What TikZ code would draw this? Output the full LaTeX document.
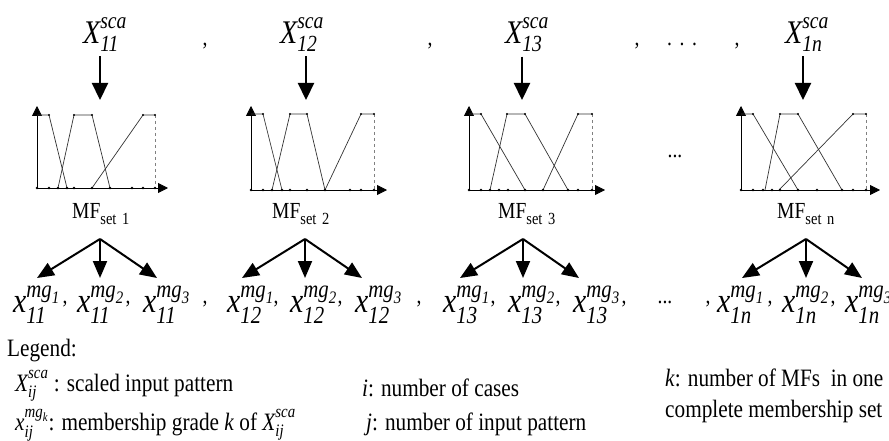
\documentclass[tikz,border=0pt]{standalone}
\usepackage{amsmath}
\usepackage{fontspec}
\setmainfont[FakeStretch=0.85]{Liberation Serif}
\usetikzlibrary{arrows.meta,positioning}
\newcommand{\ital}[1]{\text{\itshape #1}}
\newcommand{\vsca}[1]{$\ital{X}_{\ital{#1}}^{\raisebox{0.12em}{$\scriptstyle\ital{sca}$}}$}
\newcommand{\vmg}[2]{$\ital{x}_{\ital{#1}}^{\raisebox{0.12em}{$\scriptstyle\ital{mg}_{\ital{#2}}$}}$}
\newcommand{\mfset}[1]{MF\raisebox{-0.28em}{\fontsize{17}{18}\selectfont set\,\,#1}}

\begin{document}
\begin{tikzpicture}[x=1pt,y=-1pt,
    inlab/.style={font=\fontsize{33}{36}\selectfont,inner sep=0pt,anchor=base west},
    outlab/.style={font=\fontsize{35}{38}\selectfont,inner sep=0pt,anchor=base west},
    mflab/.style={font=\fontsize{23}{26}\selectfont,inner sep=0pt,anchor=base west},
    sep/.style={font=\fontsize{23}{25}\selectfont,inner sep=0pt},
    legtext/.style={font=\fontsize{25}{28}\selectfont,inner sep=0pt,anchor=base west},
    feed/.style={line width=2.2pt,-{Triangle[length=17pt,width=16pt]}},
    fan/.style={line width=2pt,-{Triangle[length=17pt,width=14pt]}},
    mfaxis/.style={line width=0.8pt,-{Triangle[length=10pt,width=10pt]}},
    mfline/.style={line width=0.7pt,black!80},
    mfdash/.style={line width=0.7pt,black!50,dashed}]
  \useasboundingbox (0,0) rectangle (889,441);

  % scaled inputs
  \node[inlab] (in1) at (83,44) {\vsca{11}};
  \node[inlab] (in2) at (280,44) {\vsca{12}};
  \node[inlab] (in3) at (505,44) {\vsca{13}};
  \node[inlab] (in4) at (785,44) {\vsca{1n}};
  \foreach \x [count=\i] in {205,430,637,737}
    \node[sep] (tc\i) at (\x,46) {,};
  \node[sep] (tdots) at (682,44) {.\,\,.\,\,.};

  \foreach \x [count=\i] in {100,306,522,803} {
    \coordinate (t\i) at (\x,100);
    \draw[feed] (in\i.south -| t\i) ++(0,5) -- (t\i);
  }

  % membership function sets
  \draw[mfaxis] (37,188) -- (37,106);
  \draw[mfaxis] (37,188) -- (168,188);
  \draw[mfline] (37,115) -- (49,115) -- (67,188);
  \draw[mfline] (58,188) -- (74,115) -- (92,115) -- (110,188);
  \draw[mfline] (92,188) -- (143,115) -- (155,115);
  \draw[mfdash] (155,115) -- (155,188);
  \foreach \x in {37,49,58,67,74,92,110,132,143,155}
    \fill (\x,188) circle (1.3pt);
  \foreach \x in {49,74,92,143,155}
    \fill (\x,115) circle (1.1pt);

  \draw[mfaxis] (251,190) -- (251,106);
  \draw[mfaxis] (251,190) -- (387,190);
  \draw[mfline] (251,114) -- (263,114) -- (282,190);
  \draw[mfline] (272,190) -- (290,114) -- (307,114) -- (325,190);
  \draw[mfline] (325,190) -- (361,114) -- (374,114);
  \draw[mfdash] (374,114) -- (374,190);
  \foreach \x in {251,263,272,282,290,307,325,350,361,374}
    \fill (\x,190) circle (1.3pt);
  \foreach \x in {263,290,307,361,374}
    \fill (\x,114) circle (1.1pt);

  \draw[mfaxis] (469,190) -- (469,106);
  \draw[mfaxis] (469,190) -- (605,190);
  \draw[mfline] (469,114) -- (481,114) -- (525,190);
  \draw[mfline] (490,190) -- (507,114) -- (525,114) -- (568,190);
  \draw[mfline] (543,190) -- (578,114) -- (592,114);
  \draw[mfdash] (592,114) -- (592,190);
  \foreach \x in {469,481,490,499,508,525,543,568,578,592}
    \fill (\x,190) circle (1.3pt);
  \foreach \x in {481,507,525,578,592}
    \fill (\x,114) circle (1.1pt);

  \node[sep] (mdots) at (675,156) {...};

  \draw[mfaxis] (741,190) -- (741,106);
  \draw[mfaxis] (741,190) -- (880,190);
  \draw[mfline] (741,114) -- (753,114) -- (798,190);
  \draw[mfline] (765,190) -- (780,114) -- (798,114) -- (842,190);
  \draw[mfline] (779,190) -- (853,114) -- (866,114);
  \draw[mfdash] (866,114) -- (866,190);
  \foreach \x in {741,753,763,772,780,798,817,842,853,866}
    \fill (\x,190) circle (1.3pt);
  \foreach \x in {753,780,798,853,866}
    \fill (\x,114) circle (1.1pt);

  \node[mflab] (mf1) at (72,218) {\mfset{1}};
  \node[mflab] (mf2) at (272,218) {\mfset{2}};
  \node[mflab] (mf3) at (498,218) {\mfset{3}};
  \node[mflab] (mf4) at (777,218) {\mfset{n}};

  % membership grades
  \foreach \xm/\xl/\xr [count=\i] in {100/37/157,305/242/362,523/460/579,806/742/862} {
    \coordinate (ap\i) at (\xm,239);
    \coordinate (fl\i) at (\xl,278);
    \coordinate (fm\i) at (\xm,278);
    \coordinate (fr\i) at (\xr,278);
    \draw[fan] (ap\i) -- (fl\i);
    \draw[fan] (ap\i) -- (fm\i);
    \draw[fan] (ap\i) -- (fr\i);
  }

  \foreach \g/\xa/\xb/\xc [count=\i] in {11/13/77/143,12/227/290/355,13/443/508/573,1n/717/782/845} {
    \node[outlab] (o\i-1) at (\xa,312) {\vmg{\g}{1}};
    \node[outlab] (o\i-2) at (\xb,312) {\vmg{\g}{2}};
    \node[outlab] (o\i-3) at (\xc,312) {\vmg{\g}{3}};
  }
  \foreach \x [count=\i] in {65,128,276,340,493,558,770,833}
    \node[sep] (oc\i) at (\x,304) {,};
  \foreach \x [count=\i] in {205,419,624,708}
    \node[sep] (og\i) at (\x,304) {,};
  \node[sep] (odots) at (665,302) {...};

  % legend
  \node[legtext] (leg) at (7,356) {Legend:};
  \node[legtext] (l1) at (15,391) {\vsca{ij} : scaled input pattern};
  \node[legtext] (l2) at (362,396) {\textit{i}: number of cases};
  \node[legtext] (l3) at (665,386) {\textit{k}: number of MFs\ \ in one};
  \node[legtext] (l4) at (15,430) {\vmg{ij}{k}: membership grade \textit{k} of \vsca{ij}};
  \node[legtext] (l5) at (366,430) {\textit{j}: number of input pattern};
  \node[legtext] (l6) at (665,417) {complete membership set};
\end{tikzpicture}
\end{document}
